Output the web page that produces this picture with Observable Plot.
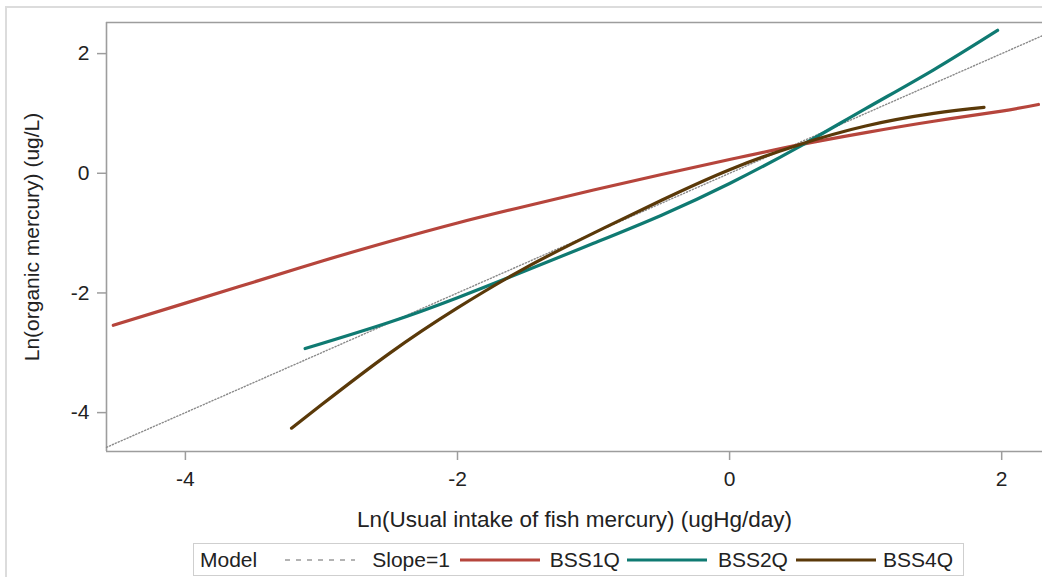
<!DOCTYPE html>
<html><head><meta charset="utf-8">
<script src="https://cdn.jsdelivr.net/npm/d3@7"></script>
<script src="https://cdn.jsdelivr.net/npm/@observablehq/plot@0.6"></script>
<style>
body{margin:0;background:#fff;font-family:"Liberation Sans",Arial,sans-serif;}
#wrap{position:relative;width:1042px;height:577px;overflow:hidden;}
#outer{position:absolute;left:5px;top:6px;width:1100px;height:700px;border:2px solid #dcdcdc;box-sizing:border-box;}
#chart{position:absolute;left:0;top:0;}
#legend{position:absolute;left:193px;top:543px;height:31px;border:1px solid #cfcfcf;display:flex;align-items:center;font-size:21px;color:#222;padding:0 10px 0 6px;background:#fff;white-space:nowrap;}
#legend svg{display:block;}
</style></head>
<body>
<div id="wrap"><div id="outer"></div><div id="chart"></div><div id="legend"></div></div>
<script>
// Data
const seriesNames = ["BSS1Q", "BSS2Q", "BSS4Q"];
const seriesColors = ["#b6453c", "#0f7a72", "#5a3909"];

const bss1qX = [-4.53, -4, -3.5, -3, -2.5, -2, -1.5, -1, -0.5, 0, 0.5, 1, 1.5, 2, 2.27];
const bss1qY = [-2.54, -2.17, -1.82, -1.47, -1.14, -0.83, -0.55, -0.28, -0.02, 0.23, 0.47, 0.68, 0.87, 1.04, 1.15];

const bss2qX = [-3.12, -2.5, -2, -1.5, -1, -0.5, 0, 0.5, 1, 1.5, 1.97];
const bss2qY = [-2.93, -2.49, -2.08, -1.63, -1.17, -0.70, -0.17, 0.43, 1.08, 1.73, 2.39];

const bss4qX = [-3.22, -3, -2.5, -2, -1.5, -1, -0.5, 0, 0.5, 1, 1.5, 1.87];
const bss4qY = [-4.26, -3.87, -3.01, -2.25, -1.58, -1.00, -0.45, 0.06, 0.47, 0.79, 1.00, 1.10];

const slopeX = [-4.58, 2.3];
const slopeY = [-4.58, 2.3];

const xTicks = [-4, -2, 0, 2];
const yTicks = [-4, -2, 0, 2];
const xDomain = [-4.58, 2.3];
const yDomain = [-4.65, 2.52];

const xLabel = "Ln(Usual intake of fish mercury) (ugHg/day)";
const yLabel = "Ln(organic mercury) (ug/L)";
const legendTitle = "Model";
const slopeName = "Slope=1";

const curves = [
  ...bss1qX.map((x, i) => ({series: "BSS1Q", x, y: bss1qY[i]})),
  ...bss2qX.map((x, i) => ({series: "BSS2Q", x, y: bss2qY[i]})),
  ...bss4qX.map((x, i) => ({series: "BSS4Q", x, y: bss4qY[i]}))
];
const slope = slopeX.map((x, i) => ({x, y: slopeY[i]}));

const axisGray = "#9d9d9d";

const chart = Plot.plot({
  width: 1042,
  height: 577,
  marginLeft: 106,
  marginRight: 0,
  marginTop: 22,
  marginBottom: 126,
  style: {fontFamily: "'Liberation Sans', Arial, sans-serif", fontSize: "21px", color: "#222", background: "transparent", overflow: "visible"},
  x: {domain: xDomain},
  y: {domain: yDomain},
  color: {domain: seriesNames, range: seriesColors},
  marks: [
    Plot.ruleX([xDomain[0]], {stroke: axisGray, strokeWidth: 1.6}),
    Plot.ruleY([yDomain[0], yDomain[1]], {stroke: axisGray, strokeWidth: 1.6}),
    Plot.axisX({ticks: xTicks, tickSize: 9, tickPadding: 11, stroke: axisGray, strokeWidth: 1.5, tickFormat: d => String(d),
      label: xLabel, labelAnchor: "center", labelArrow: "none", labelOffset: 75}),
    Plot.axisY({ticks: yTicks, tickSize: 9, tickPadding: 8, stroke: axisGray, strokeWidth: 1.5, tickFormat: d => String(d),
      label: yLabel, labelAnchor: "center", labelArrow: "none", labelOffset: 82}),
    Plot.line(slope, {x: "x", y: "y", stroke: "#8a8a8a", strokeWidth: 1.4, strokeDasharray: "1.2,2"}),
    Plot.line(curves, {x: "x", y: "y", z: "series", stroke: "series", strokeWidth: 3.2, curve: "natural"})
  ]
});
const xl = chart.querySelector('[aria-label="x-axis label"]');
if (xl) xl.style.fontSize = "22.5px";
document.getElementById("chart").appendChild(chart);

// Legend
const legend = document.getElementById("legend");
function addText(t, ml) {
  const s = document.createElement("span");
  s.textContent = t;
  s.style.marginLeft = ml + "px";
  legend.appendChild(s);
}
function addSwatch(color, dash, ml, w) {
  const svg = d3.create("svg").attr("width", w).attr("height", 6).style("margin-left", ml + "px");
  svg.append("line").attr("x1", 0).attr("x2", w).attr("y1", 3).attr("y2", 3)
    .attr("stroke", color).attr("stroke-width", dash ? 1.3 : 3.2)
    .attr("stroke-dasharray", dash ? "5,6" : null);
  legend.appendChild(svg.node());
}
addText(legendTitle, 0);
addSwatch("#9a9a9a", true, 28, 70);
addText(slopeName, 17);
const gapsBefore = [10, 7, 8];
const gapsAfter = [10, 11, 7];
seriesNames.forEach((n, i) => {
  addSwatch(seriesColors[i], false, gapsBefore[i], 80);
  addText(n, gapsAfter[i]);
});
</script>
</body></html>
